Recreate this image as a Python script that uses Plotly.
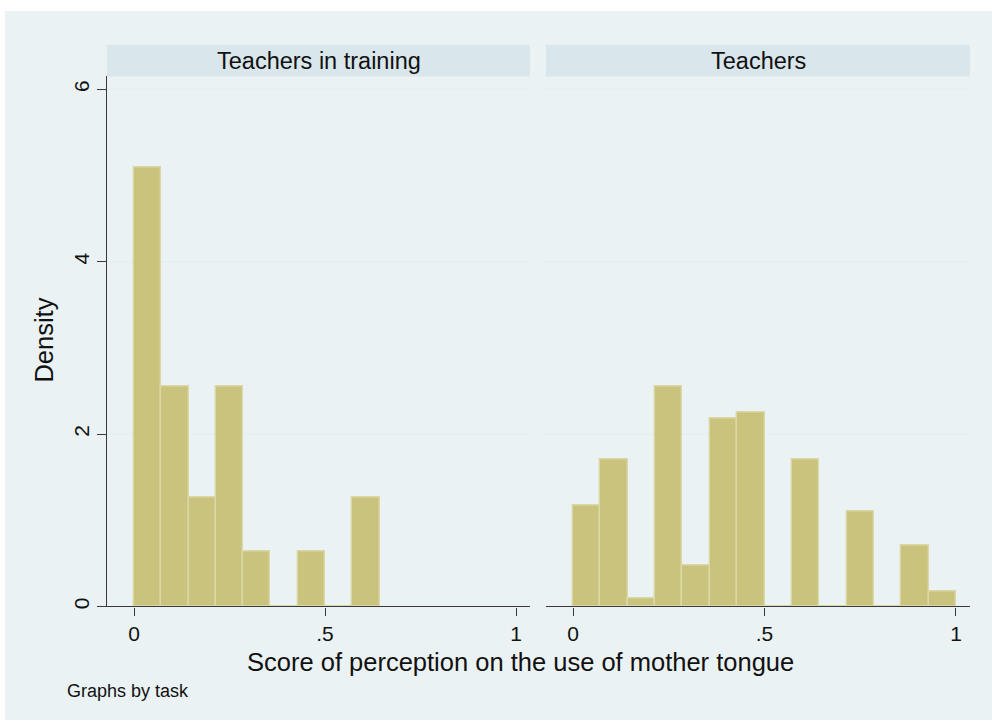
import plotly.graph_objects as go

# ---- data ----
bin_width = 1 / 14
panel_titles = ["Teachers in training", "Teachers"]
dens_training = [5.09, 2.55, 1.27, 2.55, 0.64, 0.0, 0.64, 0.0, 1.27]
dens_teachers = [1.17, 1.71, 0.09, 2.55, 0.48, 2.18, 2.25, 0.0, 1.71, 0.0, 1.10, 0.0, 0.71, 0.17]
x_tickvals = [0, 0.5, 1]
x_ticktext = ["0", ".5", "1"]
y_tickvals = [0, 2, 4, 6]
y_ticktext = ["0", "2", "4", "6"]

W, H = 992, 727
FONT = "Liberation Sans, Arial, Helvetica, sans-serif"
BAR_FILL = "#CAC37E"
BAR_LINE = "#DCD7A6"
OUTER_BG = "#EAF2F3"
STRIP_BG = "#D9E6EB"
GRID = "#E6EFF1"
AXIS = "#3a3a3a"


def px_x(v):
    return v / W


def px_y(v):
    return 1 - v / H


def centers(vals):
    return [(i + 0.5) * bin_width for i in range(len(vals))]


fig = go.Figure()
for i, vals in enumerate([dens_training, dens_teachers]):
    suffix = "" if i == 0 else "2"
    fig.add_trace(go.Bar(
        x=centers(vals), y=vals, width=bin_width,
        marker=dict(color=BAR_FILL, line=dict(color=BAR_LINE, width=1.4)),
        xaxis="x" + suffix, yaxis="y" + suffix, showlegend=False,
        hoverinfo="x+y",
    ))

top, bottom = 76.7, 609
dom_y = [px_y(bottom), px_y(top)]
dom_x1 = [px_x(107), px_x(530)]
dom_x2 = [px_x(546), px_x(970)]
xr = [-0.0707, 1.0366]
yr = [0, 6.15]

xcommon = dict(
    range=xr, tickvals=x_tickvals, ticktext=x_ticktext,
    showgrid=False, zeroline=False, showline=True, linecolor=AXIS, linewidth=1.2,
    ticks="outside", ticklen=8, tickcolor=AXIS, tickwidth=1.2,
    tickfont=dict(family=FONT, size=21, color="#111"), fixedrange=True,
)
fig.update_layout(
    width=W, height=H,
    margin=dict(l=0, r=0, t=0, b=0),
    paper_bgcolor="white", plot_bgcolor="white",
    bargap=0,
    xaxis=dict(domain=dom_x1, anchor="y", **xcommon),
    xaxis2=dict(domain=dom_x2, anchor="y2", **xcommon),
    yaxis=dict(
        domain=dom_y, anchor="x", range=yr, tickvals=y_tickvals, ticktext=y_ticktext,
        showgrid=True, gridcolor=GRID, gridwidth=1.5, zeroline=False,
        showline=True, linecolor=AXIS, linewidth=1.2,
        ticks="outside", ticklen=9, tickcolor=AXIS, tickwidth=1.2, tickangle=-90,
        tickfont=dict(family=FONT, size=21, color="#111"), fixedrange=True,
    ),
    yaxis2=dict(
        domain=dom_y, anchor="x2", range=yr, tickvals=y_tickvals,
        showgrid=True, gridcolor=GRID, gridwidth=1.5, zeroline=False,
        showline=False, showticklabels=False, ticks="", fixedrange=True,
    ),
)

shapes = [
    dict(type="rect", xref="paper", yref="paper", layer="below",
         x0=px_x(5), x1=px_x(992), y0=px_y(723), y1=px_y(11),
         fillcolor=OUTER_BG, line=dict(width=0)),
]
for dx in (dom_x1, dom_x2):
    shapes.append(dict(type="rect", xref="paper", yref="paper", layer="below",
                       x0=dx[0], x1=dx[1], y0=px_y(76.7), y1=px_y(45),
                       fillcolor=STRIP_BG, line=dict(width=0)))
fig.update_layout(shapes=shapes)

annotations = []
for dx, t in zip((dom_x1, dom_x2), panel_titles):
    annotations.append(dict(text=t, xref="paper", yref="paper",
                            x=(dx[0] + dx[1]) / 2, y=px_y(61), xanchor="center", yanchor="middle",
                            showarrow=False, font=dict(family=FONT, size=23.5, color="#111")))
annotations.append(dict(text="Score of perception on the use of mother tongue", xref="paper", yref="paper",
                        x=px_x(520), y=px_y(665), xanchor="center", yanchor="middle",
                        showarrow=False, font=dict(family=FONT, size=25.5, color="#111")))
annotations.append(dict(text="Density", xref="paper", yref="paper", textangle=-90,
                        x=px_x(44), y=px_y(342), xanchor="center", yanchor="middle",
                        showarrow=False, font=dict(family=FONT, size=25.5, color="#111")))
annotations.append(dict(text="Graphs by task", xref="paper", yref="paper",
                        x=px_x(65), y=px_y(694), xanchor="left", yanchor="middle",
                        showarrow=False, font=dict(family=FONT, size=18, color="#111")))
fig.update_layout(annotations=annotations)

fig.write_html(
    "out.html",
    config={"displayModeBar": False},
    post_script="document.body.style.margin='0';document.body.style.overflow='hidden';",
)
